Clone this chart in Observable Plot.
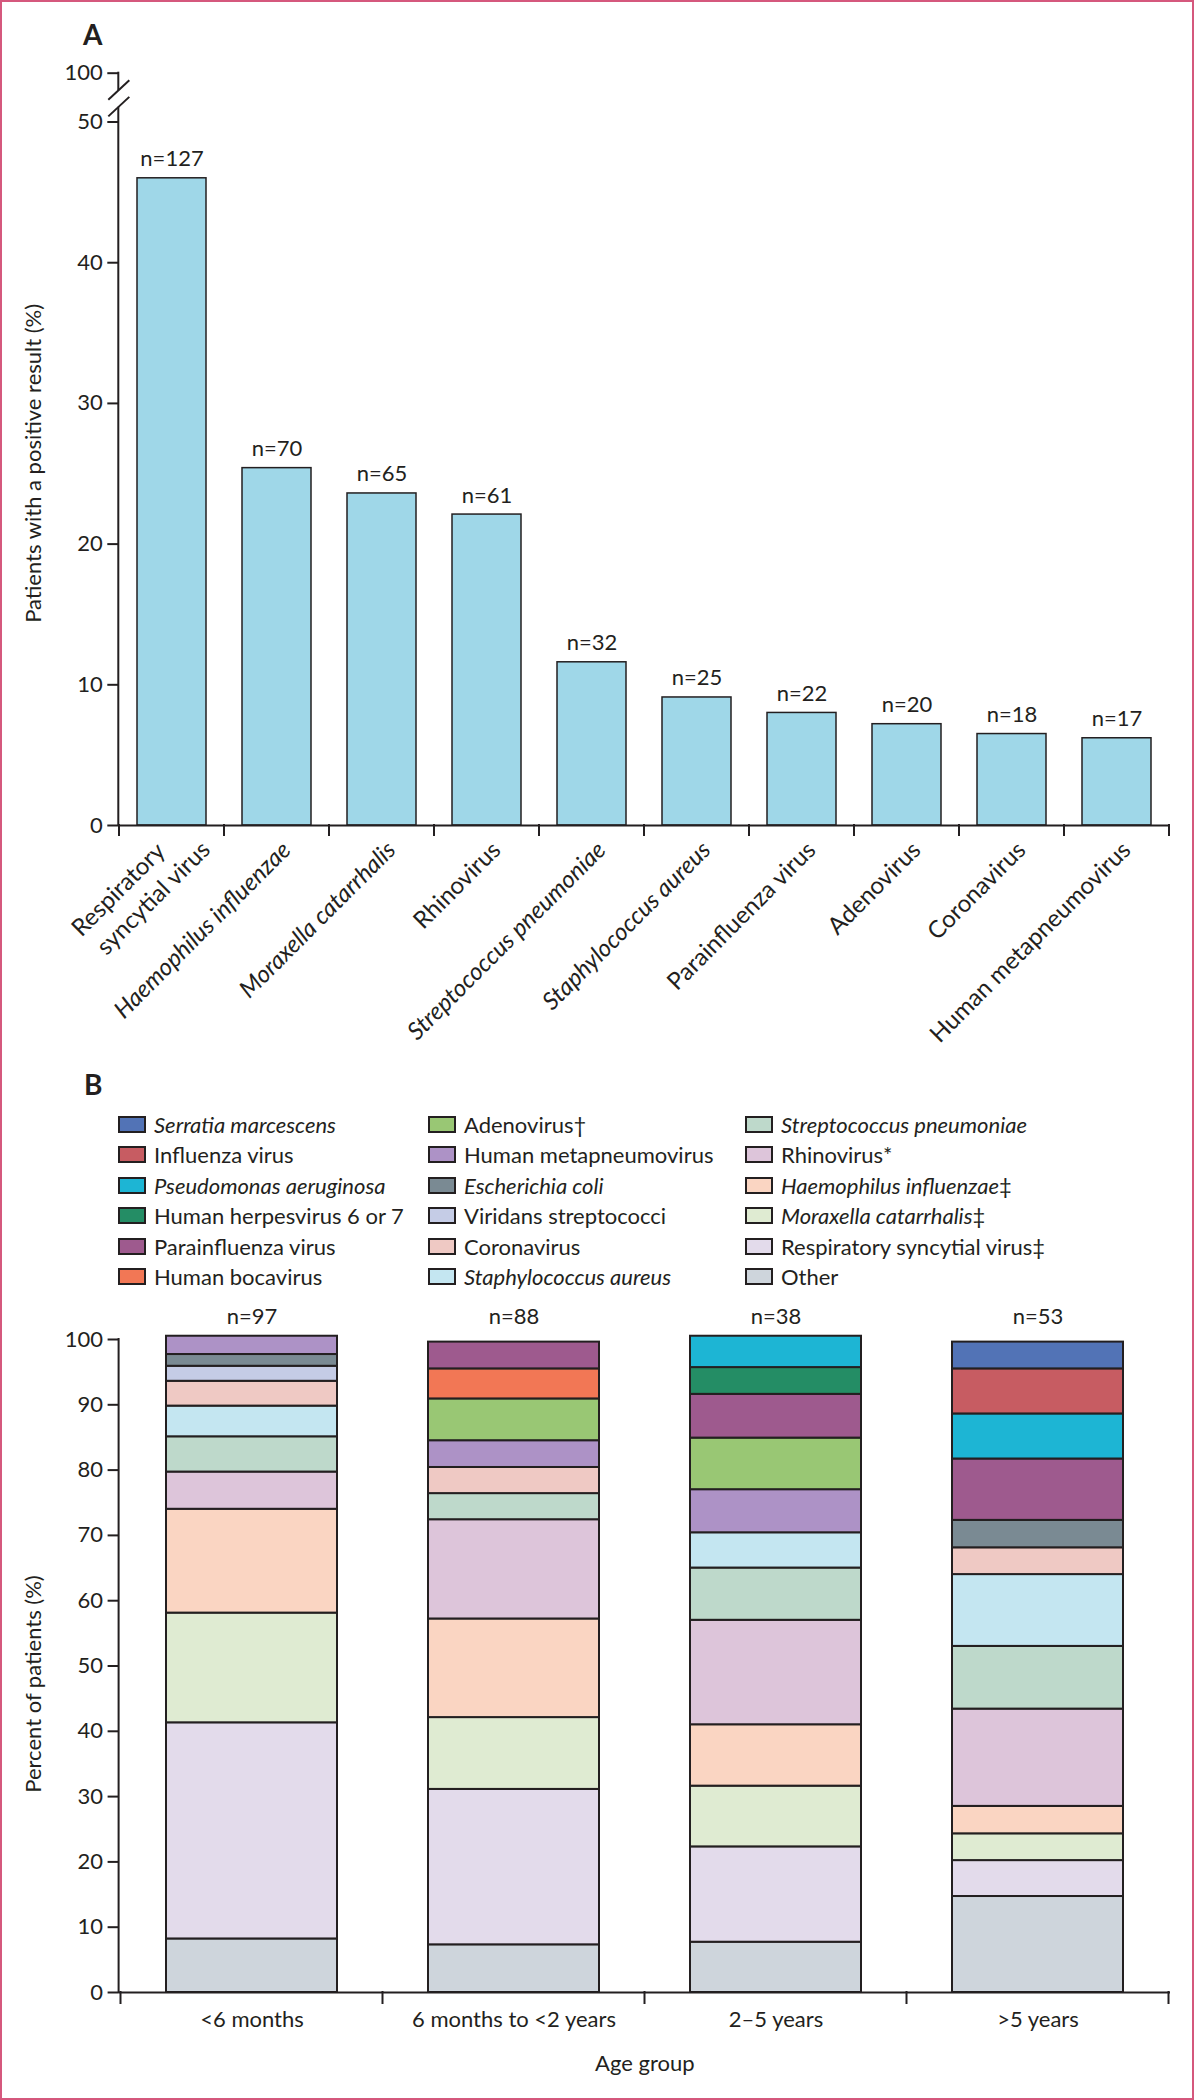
<!DOCTYPE html>
<html><head><meta charset="utf-8">
<script src="https://cdn.jsdelivr.net/npm/d3@7"></script>
<script src="https://cdn.jsdelivr.net/npm/@observablehq/plot@0.6"></script>
<style>
html,body{margin:0;padding:0;background:#fff;}
#page{position:relative;width:1194px;height:2100px;overflow:hidden;font-family:Lato,"Open Sans",sans-serif;color:#231f20;background:#fff;}
#frame{position:absolute;left:0;top:0;width:1194px;height:2100px;box-sizing:border-box;border:2px solid #d5587d;pointer-events:none;}
.panel-label{position:absolute;font-weight:700;font-size:28px;line-height:1;}
.leg-item{position:absolute;display:flex;align-items:center;font-size:22px;height:30px;white-space:nowrap;}
.sw{width:28px;height:17px;box-sizing:border-box;border:2px solid #231f20;margin-right:8px;flex:none;}
</style></head>
<body><div id="page"><div id="frame"></div></div>
<script>
// ---------- Panel A data ----------
const pathogensA = ["Respiratory\nsyncytial virus", "Haemophilus influenzae", "Moraxella catarrhalis", "Rhinovirus", "Streptococcus pneumoniae", "Staphylococcus aureus", "Parainfluenza virus", "Adenovirus", "Coronavirus", "Human metapneumovirus"];
const percentA = [46.0, 25.4, 23.6, 22.1, 11.6, 9.1, 8.0, 7.2, 6.5, 6.2];
const countA = [127, 70, 65, 61, 32, 25, 22, 20, 18, 17];
const italicA = [false, true, true, false, true, true, false, false, false, false];
const yTicksA = [0, 10, 20, 30, 40, 50, 100];
// broken axis: the 50–100 stretch is drawn compressed (as ~3.47 units)
const breakSpanA = 3.47;

// ---------- Panel B data ----------
const ageGroups = ["<6 months", "6 months to <2 years", "2–5 years", ">5 years"];
const ageCounts = [97, 88, 38, 53];
const organisms = ["Serratia marcescens", "Influenza virus", "Pseudomonas aeruginosa", "Human herpesvirus 6 or 7", "Parainfluenza virus", "Human bocavirus", "Adenovirus", "Human metapneumovirus", "Escherichia coli", "Viridans streptococci", "Coronavirus", "Staphylococcus aureus", "Streptococcus pneumoniae", "Rhinovirus", "Haemophilus influenzae", "Moraxella catarrhalis", "Respiratory syncytial virus", "Other"];
const organismMarks = ["", "", "", "", "", "", "†", "", "", "", "", "", "", "*", "‡", "‡", "‡", ""];
const organismItalic = [true, false, true, false, false, false, false, false, true, false, false, true, true, false, true, true, false, false];
const organismColors = ["#5273b6", "#c75c62", "#1db5d4", "#248d65", "#9e5a8e", "#f27755", "#99c774", "#ad92c6", "#7a8a93", "#c5cce6", "#efc9c4", "#c4e6f1", "#bed9cb", "#ddc5da", "#fad5c2", "#dfebd2", "#e3dbeb", "#ced5dc"];
// percent of patients per organism (same order as organisms), one array per age group
const pctUnder6m   = [0, 0, 0, 0, 0, 0, 0, 2.8, 1.8, 2.3, 3.8, 4.7, 5.4, 5.7, 15.9, 16.8, 33.1, 8.2];
const pct6mTo2y    = [0, 0, 0, 0, 4.1, 4.6, 6.4, 4.1, 0, 0, 4.0, 0, 4.0, 15.2, 15.1, 11.0, 23.8, 7.3];
const pct2To5y     = [0, 0, 4.8, 4.1, 6.7, 0, 7.9, 6.6, 0, 0, 0, 5.4, 8.0, 16.0, 9.4, 9.3, 14.6, 7.7];
const pctOver5y    = [4.1, 6.9, 6.9, 0, 9.4, 0, 0, 0, 4.2, 0, 4.1, 11.0, 9.6, 14.9, 4.2, 4.1, 5.5, 14.7];
const pctByAge = [pctUnder6m, pct6mTo2y, pct2To5y, pctOver5y];
const yTicksB = [0, 10, 20, 30, 40, 50, 60, 70, 80, 90, 100];

const INK = "#231f20";
const page = document.getElementById("page");
const W = 1194;
const baseStyle = {fontFamily: "Lato, 'Open Sans', sans-serif", fontSize: "22px", color: INK, background: "transparent", overflow: "visible"};

function addLine(svg, x1, y1, x2, y2, w = 2) {
  d3.select(svg).append("line").attr("x1", x1).attr("y1", y1).attr("x2", x2).attr("y2", y2)
    .attr("stroke", INK).attr("stroke-width", w).attr("stroke-linecap", "butt");
}
function boundaryTicks(svg, xs, domain, yPix, len) {
  const gap = (xs.step - xs.bandwidth) / 2;
  const xsPos = domain.map(d => xs.apply(d) - gap);
  xsPos.push(xs.apply(domain[domain.length - 1]) + xs.bandwidth + gap);
  xsPos.forEach(bx => addLine(svg, bx, yPix - 1, bx, yPix + len));
}

// ---------- Panel A ----------
const topTickA = 50 + breakSpanA;                       // where "100" sits on the broken axis
const toAxisA = v => (v > 50 ? 50 + (v - 50) / 50 * breakSpanA : v);
const dataA = pathogensA.map((p, i) => ({pathogen: p, pct: percentA[i], n: countA[i], italic: italicA[i]}));
const hA = 1010, zeroA = 825, hundredA = 72.7;
const labelA = {x: "pathogen", y: 0, text: "pathogen", rotate: -45, textAnchor: "end", lineAnchor: "top", dx: 3, dy: 14, fontSize: 24};
const chartA = Plot.plot({
  width: W, height: hA,
  marginLeft: 118.3, marginRight: 24, marginTop: hundredA, marginBottom: hA - zeroA,
  style: baseStyle,
  x: {domain: pathogensA, paddingInner: 0.34, paddingOuter: 0.17, axis: null},
  y: {domain: [0, topTickA], axis: null},
  marks: [
    Plot.barY(dataA, {x: "pathogen", y: d => toAxisA(d.pct), fill: "#9fd7e8", stroke: INK, strokeWidth: 1.5}),
    Plot.text(dataA, {x: "pathogen", y: d => toAxisA(d.pct), text: d => `n=${d.n}`, dy: -12, lineAnchor: "bottom"}),
    Plot.axisY({ticks: yTicksA.map(toAxisA), tickFormat: v => (v > 50 ? "100" : String(Math.round(v))), tickSize: 11, tickPadding: 5, strokeWidth: 2, label: null}),
    Plot.ruleY([0], {stroke: INK, strokeWidth: 2}),
    Plot.text(dataA.filter(d => !d.italic), labelA),
    Plot.text(dataA.filter(d => d.italic), {...labelA, fontStyle: "italic"}),
    Plot.text(["Patients with a positive result (%)"], {frameAnchor: "left", rotate: -90, textAnchor: "middle", lineAnchor: "top", dx: -93.3, dy: 14})
  ]
});
chartA.style.position = "absolute"; chartA.style.left = "0px"; chartA.style.top = "0px";
page.appendChild(chartA);
{
  const ys = chartA.scale("y"), xs = chartA.scale("x");
  const axX = xs.range[0];
  const breakLo = toAxisA(65), breakHi = toAxisA(82);
  addLine(chartA, axX, ys.apply(0) + 1, axX, ys.apply(breakLo));
  addLine(chartA, axX, ys.apply(breakHi), axX, ys.apply(topTickA) - 1);
  for (const v of [breakLo, breakHi]) {
    const yc = ys.apply(v);
    addLine(chartA, axX - 10, yc + 9.5, axX + 11, yc - 10, 2);
  }
  boundaryTicks(chartA, xs, pathogensA, ys.apply(0), 11);
  // two-line label offsets
  d3.select(chartA).selectAll("text").each(function () {
    const t = d3.select(this).selectAll("tspan");
    if (t.size() === 2 && t.nodes()[0].textContent === "Respiratory") {
      const [a, b] = t.nodes();
      a.setAttribute("x", -15.5); a.setAttribute("y", 3.4); a.removeAttribute("dy");
      b.setAttribute("x", 17.5); b.setAttribute("y", 34.1); b.removeAttribute("dy");
    }
  });
}

// ---------- Panel labels ----------
const labA = document.createElement("div"); labA.className = "panel-label"; labA.textContent = "A";
labA.style.left = "83px"; labA.style.top = "20px"; page.appendChild(labA);
const labB = document.createElement("div"); labB.className = "panel-label"; labB.textContent = "B";
labB.style.left = "84px"; labB.style.top = "1070px"; page.appendChild(labB);

// ---------- Legend ----------
const legendColX = [118, 428, 745];
organisms.forEach((o, i) => {
  const col = Math.floor(i / 6), row = i % 6;
  const item = document.createElement("div");
  item.className = "leg-item";
  item.style.left = legendColX[col] + "px";
  item.style.top = (1124 + row * 30.5 - 15) + "px";
  const sw = document.createElement("span"); sw.className = "sw"; sw.style.background = organismColors[i];
  item.appendChild(sw);
  const name = document.createElement("span");
  name.textContent = o;
  if (organismItalic[i]) name.style.fontStyle = "italic";
  item.appendChild(name);
  if (organismMarks[i]) { const m = document.createElement("span"); m.textContent = organismMarks[i]; item.appendChild(m); }
  page.appendChild(item);
});

// ---------- Panel B ----------
const dataB = [];
ageGroups.forEach((g, gi) => {
  for (let k = organisms.length - 1; k >= 0; --k) {   // "Other" at the bottom
    const v = pctByAge[gi][k];
    if (v > 0) dataB.push({age: g, organism: organisms[k], pct: v});
  }
});
const topB = 1290, hB = 810;
const chartB = Plot.plot({
  width: W, height: hB,
  marginLeft: 118.6, marginRight: 24, marginTop: 49, marginBottom: 108,
  style: baseStyle,
  x: {domain: ageGroups, paddingInner: 0.346, paddingOuter: 0.173, axis: null},
  y: {domain: [0, 100], axis: null},
  color: {domain: organisms, range: organismColors},
  marks: [
    Plot.barY(dataB, {x: "age", y: "pct", z: "organism", fill: "organism", stroke: INK, strokeWidth: 2}),
    Plot.text(ageGroups, {x: d => d, y: 100, text: (d, i) => `n=${ageCounts[i]}`, dy: -16, lineAnchor: "bottom"}),
    Plot.axisY({ticks: yTicksB, tickSize: 11, tickPadding: 5, strokeWidth: 2, label: null}),
    Plot.axisX({tickSize: 0, tickPadding: 19, label: null}),
    Plot.ruleY([0], {stroke: INK, strokeWidth: 2}),
    Plot.text(["Age group"], {frameAnchor: "bottom", lineAnchor: "top", dy: 63}),
    Plot.text(["Percent of patients (%)"], {frameAnchor: "left", rotate: -90, textAnchor: "middle", lineAnchor: "top", dx: -93.6, dy: 18})
  ]
});
chartB.style.position = "absolute"; chartB.style.left = "0px"; chartB.style.top = topB + "px";
page.appendChild(chartB);
{
  const ys = chartB.scale("y"), xs = chartB.scale("x");
  const axX = xs.range[0];
  addLine(chartB, axX, ys.apply(0) + 1, axX, ys.apply(100) - 1);
  boundaryTicks(chartB, xs, ageGroups, ys.apply(0), 12);
}
</script></body></html>
